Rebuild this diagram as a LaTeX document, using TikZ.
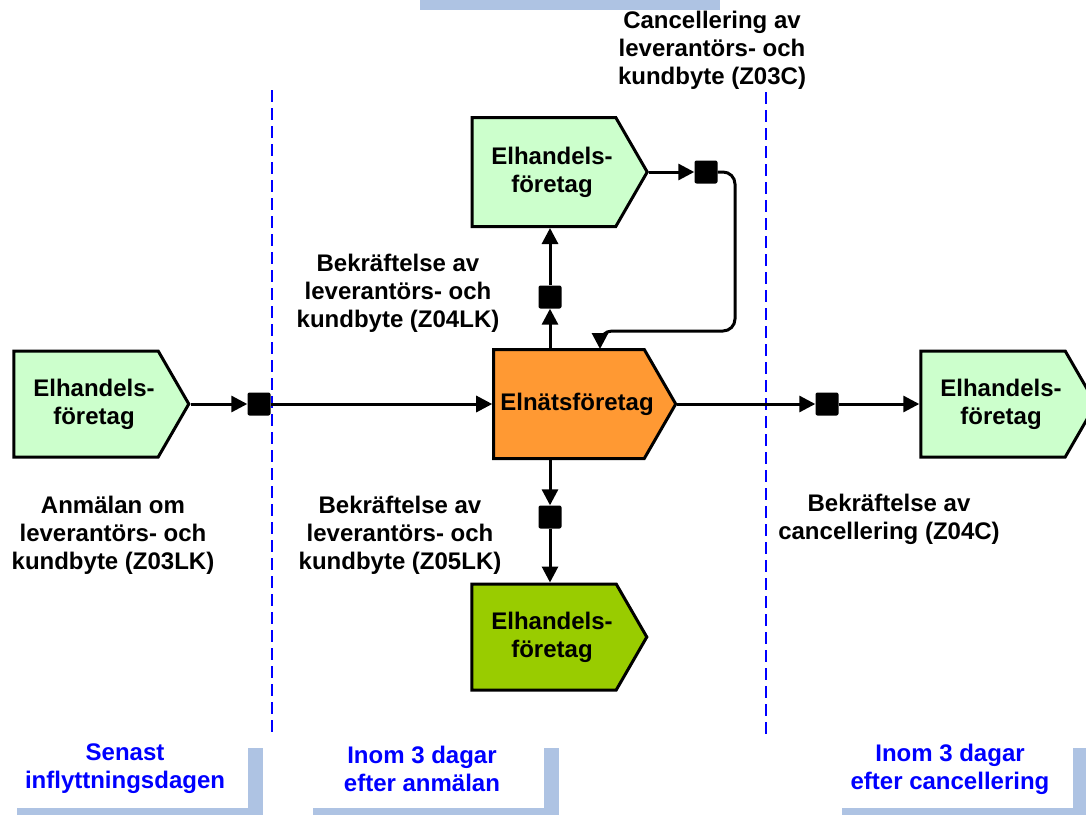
\documentclass[tikz,border=0pt]{standalone}
\usepackage{fontspec}
\setmainfont{Liberation Sans}
\usetikzlibrary{shapes.symbols,arrows.meta}
\definecolor{kundgreen}{HTML}{CCFFCC}
\definecolor{natorange}{HTML}{FF9933}
\definecolor{nygreen}{HTML}{99CC00}
\definecolor{barblue}{HTML}{AEC3E3}

\begin{document}
\begin{tikzpicture}[x=1pt,y=-1pt,
   every node/.style={font=\fontsize{24}{28}\selectfont\bfseries,align=center},
   elbox/.style={signal,signal to=east,signal pointer angle=120,draw,line width=3pt,
                 minimum width=175pt,minimum height=106pt,inner sep=0pt},
   boxtext/.style={label={[xshift=8pt]center:{#1}}},
   sq/.style={fill=black,rounded corners=2pt,minimum size=23pt,inner sep=0pt},
   arr/.style={line width=3pt,-{Triangle[length=16pt,width=16pt]}},
   period/.style={text=blue},
   gap/.style={draw=blue,line width=1.3pt,dash pattern=on 12pt off 6pt}]
\useasboundingbox[fill=white] (0,0) rectangle (1086,814);

% tidsgranser
\draw[gap] (272,90) -- (272,735);
\draw[gap] (766,92) -- (766,735);
\fill[barblue] (420,-5) rectangle (720,10);
\foreach \x in {2,298,827}{
  \fill[barblue] (\x+15,748) rectangle (\x+261,830);
  \fill[white] (\x,733) rectangle (\x+246,808);
}
\node[period] (senast) at (125,769) {Senast\\inflyttningsdagen};
\node[period] (inom1) at (422,769) {Inom 3 dagar\\efter anmälan};
\node[period] (inom2) at (950,769) {Inom 3 dagar\\efter cancellering};

% aktorer
\node[elbox,fill=kundgreen,boxtext=Elhandels-\\företag] (kundIn) at (86,404) {};
\node[elbox,fill=natorange,minimum width=182pt,minimum height=109pt,boxtext=Elnätsföretag] (eln) at (569,404) {};
\node[elbox,fill=kundgreen,minimum height=109pt,boxtext=Elhandels-\\företag] (kundUp) at (544,172) {};
\node[elbox,fill=nygreen,boxtext=Elhandels-\\företag] (kundDown) at (544,637) {};
\node[elbox,fill=kundgreen,boxtext=Elhandels-\\företag] (kundOut) at (993,404) {};

% meddelanden
\node[sq] (sqIn) at (259,404) {};
\node[sq] (sqUp) at (550,297) {};
\node[sq] (sqDown) at (550,517) {};
\node[sq] (sqTop) at (706,172) {};
\node[sq] (sqOut) at (827,404) {};
\coordinate (loop) at (735,331);
\coordinate (elnIn) at (600,349);

\draw[arr] (kundIn.east) -- (sqIn);
\draw[arr] (sqIn) -- (eln.west |- sqIn);
\draw[arr] (eln.north -| sqUp) -- (sqUp);
\draw[arr] (sqUp) -- (kundUp.south -| sqUp);
\draw[arr] (eln.south -| sqDown) -- (sqDown);
\draw[arr] (sqDown) -- (kundDown.north -| sqDown);
\draw[arr] (kundUp.east) -- (sqTop);
\draw[arr,rounded corners=12pt] (sqTop.east) -| (loop) -| (elnIn);
\draw[arr] (eln.east) -- (sqOut);
\draw[arr] (sqOut) -- (kundOut.west |- sqOut);

\node (z03lk) at (113,535) {Anmälan om\\leverantörs- och\\kundbyte (Z03LK)};
\node (z04lk) at (398,293) {Bekräftelse av\\leverantörs- och\\kundbyte (Z04LK)};
\node (z05lk) at (400,535) {Bekräftelse av\\leverantörs- och\\kundbyte (Z05LK)};
\node (z03c) at (712,50) {Cancellering av\\leverantörs- och\\kundbyte (Z03C)};
\node (z04c) at (889,519) {Bekräftelse av\\cancellering (Z04C)};
\end{tikzpicture}
\end{document}
